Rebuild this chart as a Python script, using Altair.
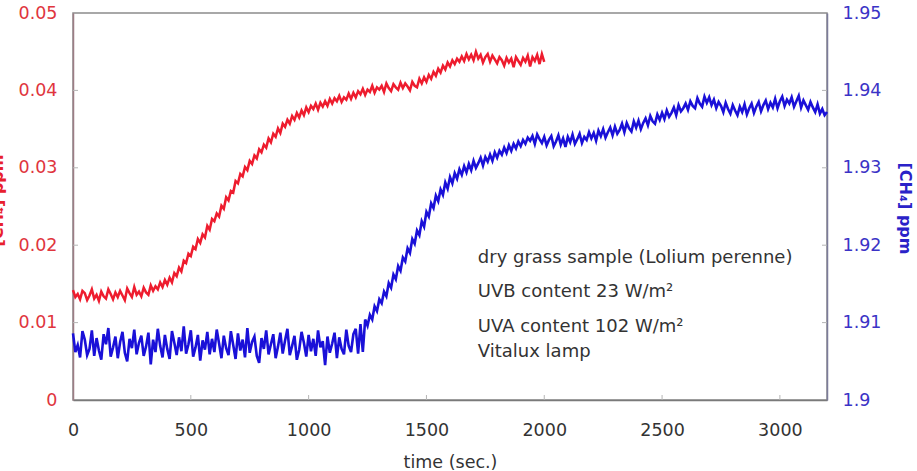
import altair as alt
import pandas as pd

STEP = 10  # seconds between samples

# Methane increase above background, dry grass sample (ppm), 0-2000 s
red_ppm = [
    .0142, .0133, .0137, .0130, .0141, .0138, .0129, .0135, .0143, .0131,  # 0
    .0136, .0128, .0140, .0134, .0131, .0143, .0137, .0130, .0139, .0133,  # 100
    .0141, .0135, .0129, .0144, .0138, .0133, .0146, .0136, .0140, .0134,  # 200
    .0145, .0139, .0136, .0148, .0141, .0147, .0143, .0152, .0146, .0155,  # 300
    .0149, .0158, .0152, .0164, .0160, .0171, .0166, .0180, .0177, .0189,  # 400
    .0186, .0198, .0195, .0208, .0203, .0214, .0210, .0225, .0220, .0234,  # 500
    .0231, .0241, .0237, .0251, .0247, .0262, .0258, .0270, .0268, .0283,  # 600
    .0280, .0292, .0289, .0301, .0297, .0309, .0305, .0316, .0312, .0324,  # 700
    .0320, .0330, .0326, .0338, .0333, .0344, .0340, .0351, .0345, .0357,  # 800
    .0353, .0362, .0357, .0367, .0362, .0371, .0365, .0374, .0368, .0378,  # 900
    .0372, .0380, .0376, .0383, .0375, .0384, .0379, .0386, .0380, .0389,  # 1000
    .0383, .0390, .0386, .0393, .0385, .0391, .0388, .0396, .0389, .0397,  # 1100
    .0391, .0399, .0395, .0402, .0394, .0401, .0398, .0406, .0397, .0404,  # 1200
    .0401, .0406, .0398, .0409, .0403, .0399, .0408, .0404, .0401, .0410,  # 1300
    .0403, .0409, .0405, .0400, .0411, .0406, .0404, .0415, .0409, .0417,  # 1400
    .0411, .0420, .0415, .0424, .0419, .0428, .0423, .0432, .0427, .0436,  # 1500
    .0431, .0439, .0434, .0441, .0437, .0444, .0438, .0447, .0440, .0446,  # 1600
    .0439, .0450, .0441, .0446, .0436, .0443, .0447, .0437, .0445, .0440,  # 1700
    .0435, .0443, .0439, .0432, .0442, .0436, .0441, .0430, .0443, .0438,  # 1800
    .0433, .0442, .0437, .0445, .0431, .0443, .0438, .0446, .0434, .0447,  # 1900
    .0437,                                                                 # 2000
]

# Absolute methane mixing ratio (ppm), 0-3200 s
blue_ppm = [
    1.9086, 1.9062, 1.9071, 1.9055, 1.9089, 1.9078, 1.9058, 1.9066, 1.9090, 1.9057,  # 0
    1.9080, 1.9064, 1.9052, 1.9085, 1.9072, 1.9093, 1.9056, 1.9068, 1.9082, 1.9054,  # 100
    1.9075, 1.9088, 1.9061, 1.9050, 1.9079, 1.9067, 1.9091, 1.9059, 1.9074, 1.9083,  # 200
    1.9057, 1.9069, 1.9087, 1.9046, 1.9078, 1.9062, 1.9092, 1.9070, 1.9055, 1.9084,  # 300
    1.9066, 1.9053, 1.9089, 1.9074, 1.9058, 1.9081, 1.9063, 1.9095, 1.9060, 1.9072,  # 400
    1.9090, 1.9056, 1.9068, 1.9084, 1.9051, 1.9077, 1.9065, 1.9088, 1.9059, 1.9079,  # 500
    1.9062, 1.9091, 1.9073, 1.9054, 1.9083, 1.9067, 1.9058, 1.9089, 1.9071, 1.9053,  # 600
    1.9086, 1.9064, 1.9078, 1.9055, 1.9093, 1.9061, 1.9075, 1.9082, 1.9057, 1.9048,  # 700
    1.9080, 1.9066, 1.9090, 1.9059, 1.9072, 1.9085, 1.9054, 1.9069, 1.9087, 1.9060,  # 800
    1.9077, 1.9092, 1.9058, 1.9070, 1.9083, 1.9052, 1.9065, 1.9088, 1.9074, 1.9056,  # 900
    1.9084, 1.9063, 1.9079, 1.9057, 1.9090, 1.9068, 1.9076, 1.9045, 1.9082, 1.9061,  # 1000
    1.9073, 1.9087, 1.9054, 1.9081, 1.9066, 1.9059, 1.9091, 1.9070, 1.9062, 1.9085,  # 1100
    1.9092, 1.9060, 1.9098, 1.9062, 1.9104, 1.9096, 1.9110, 1.9104, 1.9121, 1.9115,  # 1200
    1.9130, 1.9125, 1.9140, 1.9134, 1.9151, 1.9145, 1.9162, 1.9156, 1.9173, 1.9167,  # 1300
    1.9184, 1.9179, 1.9196, 1.9190, 1.9208, 1.9202, 1.9219, 1.9213, 1.9231, 1.9224,  # 1400
    1.9243, 1.9237, 1.9254, 1.9248, 1.9264, 1.9257, 1.9272, 1.9265, 1.9281, 1.9273,  # 1500
    1.9288, 1.9280, 1.9293, 1.9286, 1.9298, 1.9291, 1.9302, 1.9294, 1.9305, 1.9297,  # 1600
    1.9309, 1.9300, 1.9306, 1.9313, 1.9303, 1.9314, 1.9308, 1.9317, 1.9309, 1.9320,  # 1700
    1.9313, 1.9322, 1.9317, 1.9326, 1.9319, 1.9329, 1.9322, 1.9331, 1.9325, 1.9334,  # 1800
    1.9328, 1.9336, 1.9331, 1.9339, 1.9335, 1.9341, 1.9331, 1.9343, 1.9337, 1.9332,  # 1900
    1.9340, 1.9329, 1.9336, 1.9341, 1.9328, 1.9334, 1.9342, 1.9330, 1.9338, 1.9327,  # 2000
    1.9340, 1.9333, 1.9343, 1.9331, 1.9337, 1.9344, 1.9332, 1.9340, 1.9336, 1.9346,  # 2100
    1.9338, 1.9345, 1.9335, 1.9348, 1.9341, 1.9350, 1.9339, 1.9346, 1.9352, 1.9342,  # 2200
    1.9353, 1.9344, 1.9349, 1.9357, 1.9346, 1.9358, 1.9351, 1.9347, 1.9360, 1.9352,  # 2300
    1.9361, 1.9350, 1.9358, 1.9364, 1.9355, 1.9367, 1.9360, 1.9357, 1.9369, 1.9362,  # 2400
    1.9371, 1.9363, 1.9374, 1.9366, 1.9371, 1.9378, 1.9368, 1.9381, 1.9373, 1.9377,  # 2500
    1.9383, 1.9375, 1.9386, 1.9380, 1.9377, 1.9390, 1.9383, 1.9379, 1.9392, 1.9384,  # 2600
    1.9391, 1.9381, 1.9388, 1.9377, 1.9385, 1.9380, 1.9372, 1.9384, 1.9376, 1.9370,  # 2700
    1.9381, 1.9374, 1.9368, 1.9379, 1.9372, 1.9382, 1.9369, 1.9377, 1.9383, 1.9371,  # 2800
    1.9379, 1.9385, 1.9373, 1.9381, 1.9387, 1.9376, 1.9384, 1.9378, 1.9389, 1.9377,  # 2900
    1.9386, 1.9392, 1.9380, 1.9388, 1.9383, 1.9391, 1.9379, 1.9386, 1.9393, 1.9378,  # 3000
    1.9387, 1.9381, 1.9375, 1.9385, 1.9378, 1.9372, 1.9382, 1.9370, 1.9376, 1.9368,  # 3100
    1.9372,                                                                          # 3200
]

x_ticks = [0, 500, 1000, 1500, 2000, 2500, 3000]
left_ticks = [0, 0.01, 0.02, 0.03, 0.04, 0.05]
right_ticks = [1.9, 1.91, 1.92, 1.93, 1.94, 1.95]

notes = [
    "dry grass sample (Lolium perenne)",
    "UVB content 23 W/m²",
    "UVA content 102 W/m²",
    "Vitalux lamp",
]
note_time = [1718, 1718, 1718, 1718]
note_level = [0.0177, 0.0133, 0.0088, 0.0056]

W, H = 754, 387
FONT = "DejaVu Sans"
RED = "#ee1c2e"
BLUE = "#1a10d8"

red_df = pd.DataFrame({"t": [i * STEP for i in range(len(red_ppm))], "v": red_ppm})
blue_df = pd.DataFrame({"t": [i * STEP for i in range(len(blue_ppm))], "v": blue_ppm})
xt_df = pd.DataFrame({"t": x_ticks[1:]})
lt_df = pd.DataFrame({"v": left_ticks[1:-1]})
rt_df = pd.DataFrame({"v": right_ticks[1:-1]})
note_df = pd.DataFrame({"t": note_time, "v": note_level, "label": notes})

x_scale = alt.Scale(domain=[0, 3200], nice=False, zero=False)
left_scale = alt.Scale(domain=[0, 0.05], nice=False)
right_scale = alt.Scale(domain=[1.9, 1.95], nice=False, zero=False)

x_axis = alt.Axis(
    values=x_ticks, format="d", ticks=False, grid=False, labelFlush=False,
    labelColor="#333333", labelFontSize=17.5, labelPadding=21,
    domainColor="#7a7a7a", domainWidth=1.5,
    title="time (sec.)", titleColor="#333333", titleFontSize=17.5,
    titleFontWeight="normal", titleX=W / 2, titleY=67,
    titleBaseline="alphabetic", titleAlign="center",
)

# the left title sits against the page edge, partly outside it
left_axis = alt.Axis(
    values=left_ticks, format="~g", ticks=False, grid=False,
    labelColor="#e0353d", labelFontSize=17.5, labelPadding=16,
    domainColor="#9d7d85", domainWidth=1.5,
    title="[CH₄] ppm", titleColor="#e8202e", titleFontSize=16,
    titleFontWeight="bold", titleAngle=270, titleX=-71, titleY=187,
    titleBaseline="alphabetic", titleAlign="center",
)

right_axis = alt.Axis(
    orient="right", values=right_ticks, format="~g", ticks=False, grid=False,
    labelColor="#3b33c6", labelFontSize=17.5, labelPadding=15,
    domainColor="#7c7c9a", domainWidth=1.5,
    title="[CH₄] ppm", titleColor="#2a22c8", titleFontSize=16,
    titleFontWeight="bold", titleAngle=90, titleX=72, titleY=195,
    titleBaseline="alphabetic", titleAlign="center",
)

# every layer carries the same axis definition so the merged axes survive
X = alt.X("t:Q", scale=x_scale, axis=x_axis)
Y_LEFT = alt.Y("v:Q", scale=left_scale, axis=left_axis)
Y_RIGHT = alt.Y("v:Q", scale=right_scale, axis=right_axis)

red_line = alt.Chart(red_df).mark_line(color=RED, strokeWidth=2.5).encode(x=X, y=Y_LEFT)

# inward tick marks on the bottom and left frame edges
x_tick_marks = alt.Chart(xt_df).mark_rule(color="#b5b5b5", strokeWidth=1).encode(
    x=X, y=alt.value(H), y2=alt.value(H - 5),
)
left_tick_marks = alt.Chart(lt_df).mark_rule(color="#b5b5b5", strokeWidth=1).encode(
    y=Y_LEFT, x=alt.value(0), x2=alt.value(5),
)

note_text = alt.Chart(note_df).mark_text(
    align="left", baseline="alphabetic", font=FONT, fontSize=18, color="#333333"
).encode(x=X, y=Y_LEFT, text="label:N")

blue_line = alt.Chart(blue_df).mark_line(color=BLUE, strokeWidth=2.6).encode(x=X, y=Y_RIGHT)
right_tick_marks = alt.Chart(rt_df).mark_rule(color="#b5b5b5", strokeWidth=1).encode(
    y=Y_RIGHT, x=alt.value(W - 5), x2=alt.value(W),
)

left_group = alt.layer(red_line, x_tick_marks, left_tick_marks, note_text)
right_group = alt.layer(blue_line, right_tick_marks)

chart = (
    alt.layer(left_group, right_group)
    .resolve_scale(y="independent")
    .properties(
        width=W, height=H, autosize="none",
        padding={"left": 73, "top": 13, "right": 90, "bottom": 71},
    )
    .configure(font=FONT)
    .configure_view(stroke="#8c8c8c", strokeWidth=1.5)
)

chart.save("out.html", embed_options={"renderer": "svg", "actions": False})
